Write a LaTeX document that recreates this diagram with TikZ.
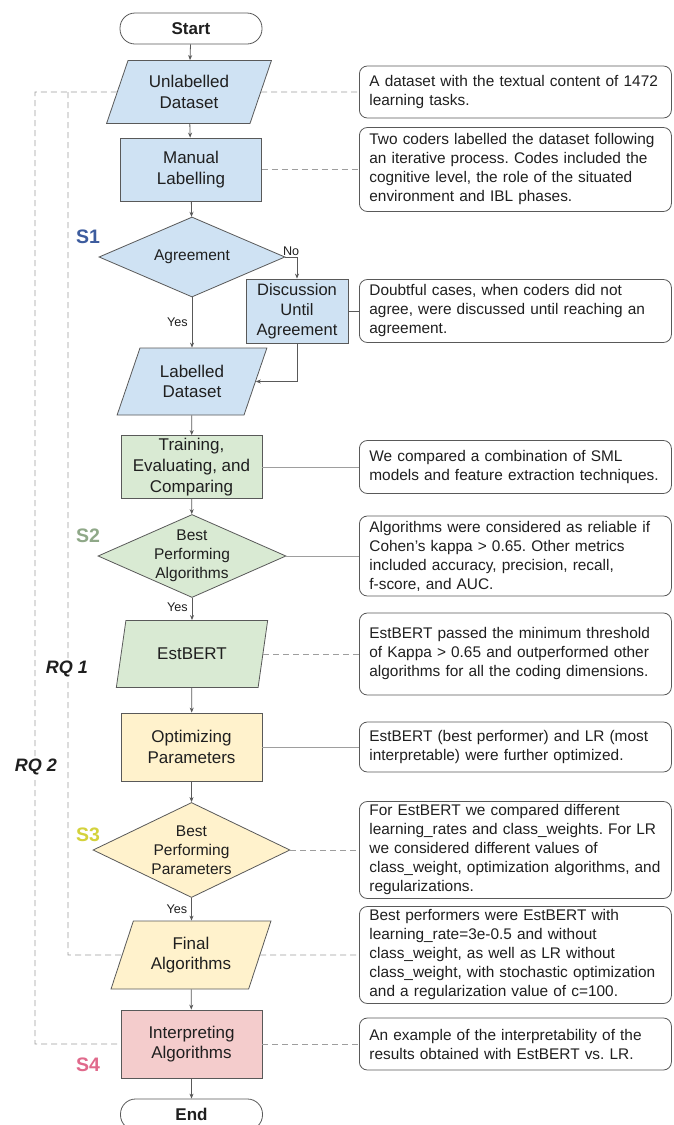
\documentclass[tikz,border=0pt]{standalone}
\usepackage{fontspec}
\setmainfont{Liberation Sans}
\usetikzlibrary{shapes.geometric,arrows.meta,calc}
\definecolor{bluef}{HTML}{CFE2F3}
\definecolor{greenf}{HTML}{D9EAD3}
\definecolor{yellowf}{HTML}{FFF2CC}
\definecolor{pinkf}{HTML}{F4CCCC}
\definecolor{sone}{HTML}{3D5C9E}
\definecolor{stwo}{HTML}{8FA888}
\definecolor{sthree}{HTML}{D4D23C}
\definecolor{sfour}{HTML}{E06A8C}
\definecolor{edgec}{HTML}{595959}
\definecolor{dashc}{HTML}{9E9E9E}
\frenchspacing
\begin{document}
\begin{tikzpicture}[x=1pt,y=-1pt,
 every node/.style={text=black!88},
 mainfont/.style={font=\fontsize{17}{20.8}\selectfont},
 term/.style={draw=edgec, line width=0.8pt, rounded corners=15pt, minimum width=142pt, minimum height=31pt, inner sep=0pt, font=\bfseries\fontsize{17}{20}\selectfont},
 procbox/.style={draw=edgec, line width=0.8pt, align=center, inner sep=0pt, minimum width=141pt, minimum height=64pt, mainfont},
 iobox/.style={trapezium, trapezium left angle=67, trapezium right angle=113, trapezium stretches=true, draw=edgec, line width=0.8pt, align=center, inner sep=0pt, minimum width=162pt, minimum height=66pt, mainfont},
 decbox/.style={diamond, draw=edgec, line width=0.8pt, inner sep=0pt},
 dectext/.style={align=center, font=\fontsize{15.5}{19}\selectfont, inner sep=0pt},
 notebox/.style={draw=edgec, line width=0.8pt, rounded corners=8pt, anchor=west, minimum width=312pt, text width=292pt, align=left, inner xsep=10pt, font=\fontsize{15.4}{19}\selectfont},
 flow/.style={draw=edgec, line width=0.8pt, -{Stealth[length=5pt,width=4pt]}},
 link/.style={draw=dashc, line width=0.9pt, dash pattern=on 6pt off 4pt},
 slink/.style={draw=dashc, line width=0.9pt},
 yn/.style={font=\fontsize{12.6}{14}\selectfont, inner sep=1pt},
 slab/.style={font=\bfseries\fontsize{19.5}{22}\selectfont, inner sep=0pt},
 rq/.style={font=\bfseries\itshape\fontsize{18}{20}\selectfont, fill=white, inner sep=1pt}
]
\fill[white] (0,0) rectangle (673,1125);
\useasboundingbox (0,0) rectangle (673,1125);

% main flow
\node[term] (start) at (191,28.5) {Start};
\node[iobox, fill=bluef, minimum width=165pt, minimum height=63pt] (unlab) at (189,92) {Unlabelled\\Dataset};
\node[procbox, fill=bluef, minimum height=63pt] (manual) at (191,169.5) {Manual\\Labelling};
\node[decbox, fill=bluef, minimum width=186pt, minimum height=80pt] (agree) at (192,257) {};
\node[dectext] (agreet) at (agree) {Agreement};
\node[procbox, fill=bluef, minimum width=102pt, minimum height=64pt, font=\fontsize{16.5}{20}\selectfont] (disc) at (297,311) {Discussion\\Until\\Agreement};
\node[iobox, fill=bluef, minimum width=150pt, minimum height=67pt] (lab) at (192,381.5) {Labelled\\Dataset};
\node[procbox, fill=greenf, minimum height=63pt] (train) at (191.5,467) {Training,\\Evaluating, and\\Comparing};
\node[decbox, fill=greenf, minimum width=188pt, minimum height=83pt] (bpa) at (192,556) {};
\node[dectext] (bpat) at (bpa) {Best\\Performing\\Algorithms};
\node[iobox, fill=greenf, minimum width=152pt, minimum height=67pt] (est) at (192,654) {EstBERT};
\node[procbox, fill=yellowf, minimum height=68pt] (opt) at (191.5,747) {Optimizing\\Parameters};
\node[decbox, fill=yellowf, minimum width=197pt, minimum height=95pt] (bpp) at (191.5,850) {};
\node[dectext] (bppt) at (bpp) {Best\\Performing\\Parameters};
\node[iobox, fill=yellowf, minimum width=160pt, minimum height=68pt] (final) at (191,955) {Final\\Algorithms};
\node[procbox, fill=pinkf, minimum height=68pt] (interp) at (191.5,1044) {Interpreting\\Algorithms};
\node[term] (end) at (191.5,1114.5) {End};

% notes
\node[notebox, minimum height=52pt] (n1) at (359,92) {A dataset with the textual content of 1472\\learning tasks.};
\node[notebox, minimum height=84pt] (n2) at (359,169.5) {Two coders labelled the dataset following\\an iterative process. Codes included the\\cognitive level, the role of the situated\\environment and IBL phases.};
\node[notebox, minimum height=63pt] (n3) at (359,311) {Doubtful cases, when coders did not\\agree, were discussed until reaching an\\agreement.};
\node[notebox, minimum height=53pt] (n4) at (359,467) {We compared a combination of SML\\models and feature extraction techniques.};
\node[notebox, minimum height=80pt] (n5) at (359,556) {Algorithms were considered as reliable if\\Cohen's kappa > 0.65. Other metrics\\included accuracy, precision, recall,\\f-score, and AUC.};
\node[notebox, minimum height=82pt] (n6) at (359,654) {EstBERT passed the minimum threshold\\of Kappa > 0.65 and outperformed other\\algorithms for all the coding dimensions.};
\node[notebox, minimum height=50pt] (n7) at (359,747) {EstBERT (best performer) and LR (most\\interpretable) were further optimized.};
\node[notebox, minimum height=96pt] (n8) at (359,850) {For EstBERT we compared different\\learning\_rates and class\_weights. For LR\\we considered different values of\\class\_weight, optimization algorithms, and\\regularizations.};
\node[notebox, minimum height=97pt] (n9) at (359,955) {Best performers were EstBERT with\\learning\_rate=3e-0.5 and without\\class\_weight, as well as LR without\\class\_weight, with stochastic optimization\\and a regularization value of c=100.};
\node[notebox, minimum height=52pt] (n10) at (359,1044) {An example of the interpretability of the\\results obtained with EstBERT vs. LR.};

% flow arrows
\draw[flow] (start) -- (unlab);
\draw[flow] (unlab) -- (manual);
\draw[flow] (manual) -- (agree);
\draw[flow] (agree.south) -- node[yn, left=3pt, pos=0.5] (yes1) {Yes} (agree.south |- lab.north);
\draw[flow] (agree.east) -| node[yn, above, pos=0.25] (no1) {No} (disc.north);
\draw[flow] (disc.south) |- (lab.east);
\draw[flow] (lab) -- (train);
\draw[flow] (train) -- (bpa);
\draw[flow] (bpa.south) -- node[yn, left=3pt, pos=0.4] (yes2) {Yes} (bpa.south |- est.north);
\draw[flow] (est) -- (opt);
\draw[flow] (opt) -- (bpp);
\draw[flow] (bpp.south) -- node[yn, left=3pt, pos=0.5] (yes3) {Yes} (bpp.south |- final.north);
\draw[flow] (final) -- (interp);
\draw[flow] (interp) -- (end);

% note links
\draw[link] (unlab.east) -- (n1.west);
\draw[link] (manual.east) -- (n2.west);
\draw[slink, draw=edgec] (disc.east) -- (n3.west);
\draw[slink] (train.east) -- (n4.west);
\draw[slink] (bpa.east) -- (n5.west);
\draw[link] (est.east) -- (n6.west);
\draw[slink] (opt.east) -- (n7.west);
\draw[link] (bpp.east) -- (n8.west);
\draw[link] (final.east) -- (n9.west);
\draw[link] (interp.east) -- (n10.west);

% RQ brackets
\coordinate (o1) at (35,92);
\coordinate (o2) at (35,1044);
\coordinate (i1) at (68,92);
\coordinate (i2) at (68,955);
\draw[link] (unlab.west) -- (o1) -- (o2) -- (interp.west);
\draw[link] (i1) -- (i2) -- (final.west);
\node[rq] (rq1) at (67,669) {RQ 1};
\node[rq] (rq2) at (36,767) {RQ 2};

% stage labels
\node[slab, text=sone] (s1) at (88,237) {S1};
\node[slab, text=stwo] (s2) at (88,536) {S2};
\node[slab, text=sthree] (s3) at (88,835) {S3};
\node[slab, text=sfour] (s4) at (88,1065) {S4};
\end{tikzpicture}
\end{document}
